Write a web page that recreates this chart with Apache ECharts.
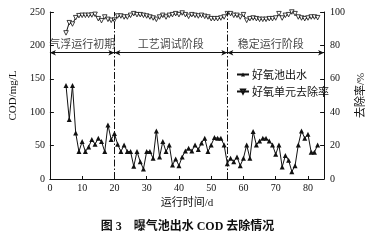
<!DOCTYPE html>
<html><head><meta charset="utf-8">
<script src="https://cdn.jsdelivr.net/npm/echarts@6/dist/echarts.min.js"></script>
<style>html,body{margin:0;padding:0;background:#fff;}#c{width:375px;height:242px;}</style>
</head><body><div id="c"></div>
<script>
var days = [5,6,7,8,9,10,11,12,13,14,15,16,17,18,19,20,21,22,23,24,25,26,27,28,29,30,31,32,33,34,35,36,37,38,39,40,41,42,43,44,45,46,47,48,49,50,51,52,53,54,55,56,57,58,59,60,61,62,63,64,65,66,67,68,69,70,71,72,73,74,75,76,77,78,79,80,81,82,83];
var codValues = [140,89,140,69,41,56,41,48,59,52,61,56,41,81,59,68,52,41,51,41,41,19,41,26,15,41,41,31,72,33,56,41,51,21,30,20,33,42,46,42,51,44,54,61,41,51,62,61,61,51,23,31,26,33,20,31,51,31,71,51,57,61,61,57,51,37,51,18,35,28,11,20,51,72,61,67,40,40,51];
var rateValues = [87.5,93.6,92.8,96.6,97.8,98,98,98,98.2,98.6,96,94.8,97,95.6,95,95.2,97.6,97.6,97,97,98,99,98.4,98.4,98,97.6,97,96.4,95.6,97,98,97,98,98.4,99,98.4,99.4,98.4,97.4,98.4,98,97.6,98,97.4,97,96,96,96,96.4,97,99,99,98,98,97,98.4,95,96,96.4,96,95.6,95.6,95.6,96,96,96.4,99,96.4,98,98.4,100,99,97,96.4,96,96.4,97,97,96.6];
var phaseNames = ['气浮运行初期','工艺调试阶段','稳定运行阶段'];
var phaseBounds = [0,20,55,85];
var phaseLabelX = [10,37.5,68.5];
var xTicks = [0,10,20,30,40,50,60,70,80];

var serif = "'Liberation Serif','Noto Sans CJK SC'";
var cjk = "'Noto Sans CJK SC'";
var arrowY = 189, textY = 203;

var codData = days.map(function(d,i){return [d,codValues[i]];});
var rateData = days.map(function(d,i){return [d,rateValues[i]];});

var markData = [];
for (var i=0;i<3;i++){
  markData.push([{coord:[phaseBounds[i],arrowY]},{coord:[phaseBounds[i+1],arrowY]}]);
}
var vlines = [
  [{coord:[20,0],symbol:'none'},{coord:[20,250],symbol:'none'}],
  [{coord:[55,0],symbol:'none'},{coord:[55,250],symbol:'none'}]
];

var chart = echarts.init(document.getElementById('c'),null,{renderer:'canvas'});
chart.setOption({
  animation:false,
  backgroundColor:'#fff',
  grid:{left:42,right:44,top:12,bottom:63},
  xAxis:{type:'value',min:0,max:85,interval:10,
    name:'运行时间/d',nameLocation:'middle',nameGap:16,
    nameTextStyle:{fontFamily:serif,fontSize:11,color:'#111'},
    axisLine:{lineStyle:{color:'#111',width:1}},
    axisTick:{inside:true,length:3,lineStyle:{color:'#111'}},
    axisLabel:{fontFamily:serif,fontSize:10,color:'#111',margin:4,
      formatter:function(v){return xTicks.indexOf(v)>=0?String(v):'';}},
    splitLine:{show:false}},
  yAxis:[
    {type:'value',min:0,max:250,interval:50,position:'left',
     name:'COD/mg/L',nameLocation:'middle',nameGap:25,nameRotate:90,
     nameTextStyle:{fontFamily:serif,fontSize:11,color:'#111'},
     axisLine:{show:true,lineStyle:{color:'#111',width:1}},
     axisTick:{show:true,inside:true,length:4,lineStyle:{color:'#111'}},
     axisLabel:{fontFamily:serif,fontSize:10,color:'#111',margin:5},
     splitLine:{show:false}},
    {type:'value',min:0,max:100,interval:20,position:'right',
     name:'去除率/%',nameLocation:'middle',nameGap:24,nameRotate:90,
     nameTextStyle:{fontFamily:serif,fontSize:11,color:'#111'},
     axisLine:{show:true,lineStyle:{color:'#111',width:1}},
     axisTick:{show:true,inside:true,length:4,lineStyle:{color:'#111'}},
     axisLabel:{fontFamily:serif,fontSize:10,color:'#111',margin:6},
     splitLine:{show:false}}
  ],
  legend:{orient:'vertical',left:231,top:64,itemGap:6,itemWidth:12,itemHeight:5,
    textStyle:{fontFamily:cjk,fontSize:11,color:'#111',padding:[0,0,0,-2]},
    data:['好氧池出水','好氧单元去除率']},
  series:[
    {name:'好氧池出水',type:'line',yAxisIndex:0,data:codData,
     symbol:'triangle',symbolSize:5,showAllSymbol:true,
     lineStyle:{color:'#111',width:1},itemStyle:{color:'#111'},
     markLine:{silent:true,symbol:['arrow','arrow'],symbolSize:[4,6],
       lineStyle:{color:'#111',width:1,type:'solid'},label:{show:false},
       data:markData}},
    {name:'好氧单元去除率',type:'line',yAxisIndex:1,data:rateData,
     symbol:'triangle',symbolRotate:180,symbolSize:4.5,showAllSymbol:true,
     lineStyle:{color:'#111',width:1},itemStyle:{color:'#fff',borderColor:'#111',borderWidth:0.8}},
    {type:'line',yAxisIndex:0,data:[],silent:true,
     markLine:{silent:true,symbol:'none',
       lineStyle:{color:'#111',width:1,type:[7,2,1.5,2]},label:{show:false},
       data:vlines}},
    {type:'scatter',yAxisIndex:0,symbolSize:0,silent:true,
     data:phaseNames.map(function(n,i){return {name:n,value:[phaseLabelX[i],textY]};}),
     label:{show:true,position:'inside',formatter:'{b}',fontFamily:cjk,fontSize:11,color:'#111'}}
  ],
  graphic:[
    {type:'text',left:'center',top:221,
     style:{text:'图 3    曝气池出水 COD 去除情况',font:"bold 12px "+serif,fill:'#111'}}
  ]
});
</script></body></html>
